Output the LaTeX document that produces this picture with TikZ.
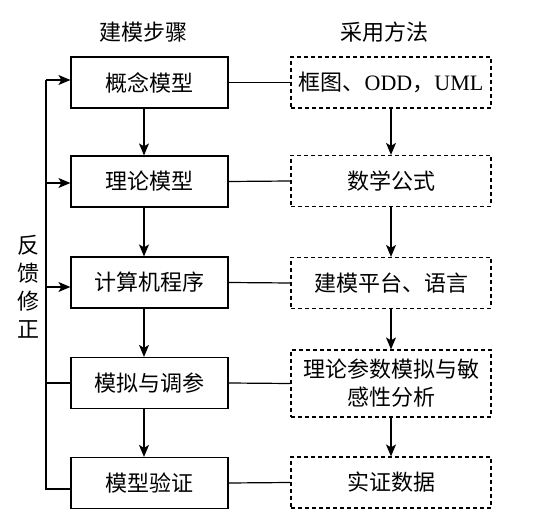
\documentclass[tikz,border=0pt]{standalone}
\usepackage{fontspec}
\setmainfont{Liberation Serif}
\newfontfamily\cjk{Noto Sans CJK SC}
\usetikzlibrary{arrows.meta}
\begin{document}
\begin{tikzpicture}[x=1pt,y=-1pt,
  txt/.style={font=\cjk\fontsize{22}{28}\selectfont, inner sep=0pt},
  stepbox/.style={txt, draw, line width=1.2pt, minimum width=157pt, minimum height=51pt},
  methbox/.style={txt, draw, line width=1.2pt, dash pattern=on 4pt off 3pt, minimum width=200pt, minimum height=51pt, align=center},
  arr/.style={line width=1.2pt, -{Stealth[length=12pt,width=10pt,inset=3pt]}},
  conn/.style={line width=1.2pt},
  fb/.style={line width=1.8pt}
]
\useasboundingbox (0,0) rectangle (554,526);
% headers
\node[txt] (h1) at (143,32) {建模步骤};
\node[txt] (h2) at (384,32) {采用方法};
% left step boxes
\node[stepbox] (L1) at (149.5,82.5) {概念模型};
\node[stepbox] (L2) at (149.5,181.5) {理论模型};
\node[stepbox] (L3) at (149.5,282.5) {计算机程序};
\node[stepbox] (L4) at (149.5,383) {模拟与调参};
\node[stepbox] (L5) at (149.5,483) {模型验证};
% right method boxes
\node[methbox] (R1) at (391,82.5) {框图、{\rmfamily ODD}，{\rmfamily UML}};
\node[methbox] (R2) at (391,181) {数学公式};
\node[methbox] (R3) at (391,283) {建模平台、语言};
\node[methbox, minimum height=67pt] (R4) at (391,383.5) {理论参数模拟与敏\\感性分析};
\node[methbox] (R5) at (391,482.5) {实证数据};
% feedback label
\node[txt, align=center] (fbl) at (28,287) {反\\馈\\修\\正};
% horizontal links
\draw[conn] (L1.east) -- (R1.west);
\draw[conn] (L2.east) -- (R2.west);
\draw[conn] (L3.east) -- (R3.west);
\draw[conn] (L4.east) -- (R4.west);
\draw[conn] (L5.east) -- (R5.west);
% left vertical arrows
\draw[arr] ([xshift=-5.5pt]L1.south) -- ([xshift=-5.5pt]L2.north);
\draw[arr] ([xshift=-5.5pt]L2.south) -- ([xshift=-5.5pt]L3.north);
\draw[arr] ([xshift=-5.5pt]L3.south) -- ([xshift=-5.5pt]L4.north);
\draw[arr, line width=1.8pt] ([xshift=-5.5pt]L4.south) -- ([xshift=-5.5pt]L5.north);
% right vertical arrows
\draw[arr] (R1.south) -- (R2.north);
\draw[arr] (R2.south) -- (R3.north);
\draw[arr] (R3.south) -- (R4.north);
\draw[arr] (R4.south) -- (R5.north);
% feedback loop
\coordinate (fb1) at (46,80);
\coordinate (fb2) at (46,183);
\coordinate (fb3) at (46,287);
\coordinate (fb4) at (46,383);
\coordinate (fb5) at (46,489);
\draw[fb] (fb5 -| L5.west) -- (fb5) -- (fb1);
\draw[arr] (fb1) -- (fb1 -| L1.west);
\draw[arr] (fb2) -- (fb2 -| L2.west);
\draw[arr] (fb3) -- (fb3 -| L3.west);
\draw[conn] (fb4) -- (fb4 -| L4.west);
\end{tikzpicture}
\end{document}
